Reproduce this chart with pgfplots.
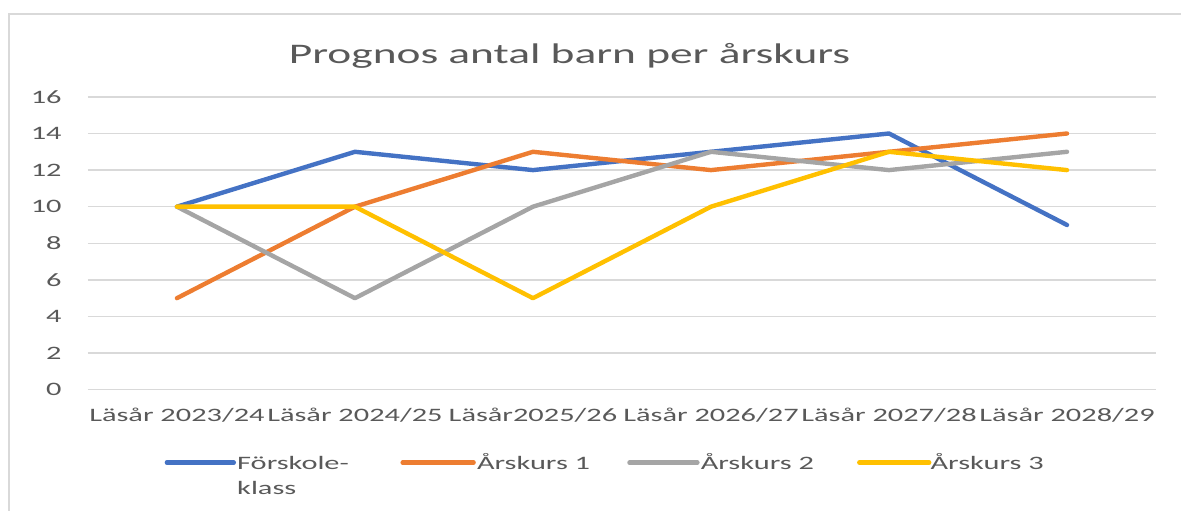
\documentclass[border=0pt]{standalone}
\usepackage{fontspec}
\setmainfont{Carlito}[FakeStretch=1.6]
\usepackage{pgfplots}
\pgfplotsset{compat=1.18}
\definecolor{cblue}{HTML}{4472C4}
\definecolor{corange}{HTML}{ED7D31}
\definecolor{cgray}{HTML}{A5A5A5}
\definecolor{cyellow}{HTML}{FFC000}
\definecolor{cgrid}{HTML}{D9D9D9}
\definecolor{ctext}{HTML}{595959}
\begin{document}
\begin{tikzpicture}
\begin{scope}[x=0.5pt,y=-0.5pt,yshift=255.5pt]
  \path (0,0) rectangle (1182,511);
  \draw[color=cgrid,line width=1pt] (9,511) -- (9,14) -- (1182,14);
  \node[anchor=base, text=ctext, font=\fontsize{14.2}{17}\selectfont, inner sep=0pt] at (570,64) {Prognos antal barn per årskurs};
\end{scope}
\begin{axis}[
  at={(44pt,60.5pt)}, anchor=south west,
  scale only axis, width=534.5pt, height=146.5pt,
  xmin=-0.5, xmax=5.5, ymin=0, ymax=16,
  ytick={0,2,...,16},
  xtick={0,...,5},
  xticklabels={Läsår 2023/24,Läsår 2024/25,Läsår2025/26,Läsår 2026/27,Läsår 2027/28,Läsår 2028/29},
  ymajorgrids,
  major grid style={cgrid, line width=0.75pt},
  axis line style={draw=none},
  major tick length=0pt,
  tick label style={text=ctext, font=\fontsize{9.5}{11}\selectfont},
  /pgf/number format/assume math mode=true,
  xticklabel style={anchor=base, inner sep=0pt, yshift=-16pt},
  yticklabel style={anchor=east, inner sep=0pt, xshift=-13pt},
  clip=false,
  every axis plot/.append style={line width=2.2pt, line join=round, line cap=round, mark=none},
]
\addplot[cblue] coordinates {(0,10) (1,13) (2,12) (3,13) (4,14) (5,9)};
\addplot[corange] coordinates {(0,5) (1,10) (2,13) (3,12) (4,13) (5,14)};
\addplot[cgray] coordinates {(0,10) (1,5) (2,10) (3,13) (4,12) (5,13)};
\addplot[cyellow] coordinates {(0,10) (1,10) (2,5) (3,10) (4,13) (5,12)};
\end{axis}
\begin{scope}[x=0.5pt,y=-0.5pt,yshift=255.5pt,
  lt/.style={anchor=base west, inner sep=0pt, text=ctext, font=\fontsize{9.5}{11}\selectfont}]
  \draw[cblue, line width=2.2pt, line cap=round] (167,463) -- (234,463);
  \node[lt] at (237,470) {Förskole-};
  \node[lt] at (237,495) {klass};
  \draw[corange, line width=2.2pt, line cap=round] (403,463) -- (474,463);
  \node[lt] at (477,470) {Årskurs 1};
  \draw[cgray, line width=2.2pt, line cap=round] (630,463) -- (698,463);
  \node[lt] at (701,470) {Årskurs 2};
  \draw[cyellow, line width=2.2pt, line cap=round] (860,463) -- (930,463);
  \node[lt] at (931,470) {Årskurs 3};
\end{scope}
\end{tikzpicture}
\end{document}
